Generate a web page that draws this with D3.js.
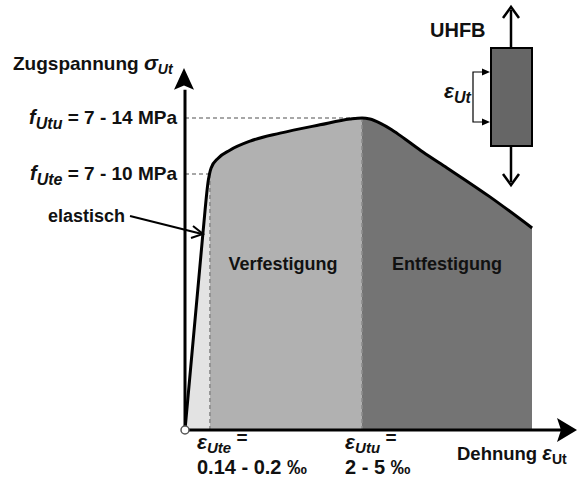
<!DOCTYPE html>
<html><head><meta charset="utf-8">
<script src="https://cdn.jsdelivr.net/npm/d3@7"></script>
<style>body{margin:0;background:#fff}svg{display:block}text{font-family:"Liberation Sans",Arial,sans-serif;font-weight:bold;fill:#111}</style>
</head><body><svg id="c" width="577" height="479"></svg>
<script>
// Schematic stress-strain curve (arbitrary units, 0..100)
const strain = [0, 4.6, 6.0, 6.7, 8.5, 11.5, 16.7, 24.4, 34.6, 42.3, 45.4, 47.4, 50.0, 53.1, 56.4, 61.0, 67.2, 78.2, 89.0];
const stress = [0, 54.4, 69.1, 72.4, 75.1, 77.3, 79.8, 82.0, 84.3, 85.9, 86.2, 85.9, 84.8, 82.9, 80.4, 76.8, 72.4, 64.4, 55.8];
const eUte = 6.4, eUtu = 45.4, eEnd = 89.0;
const fUte = 70.7, fUtu = 86.2;
const zoneNames = ["Verfestigung", "Entfestigung"];
const zoneBounds = [[eUte, eUtu], [eUtu, eEnd]];
const yLabels = [
  {v: fUtu, main: "f", sub: "Utu", rest: " = 7 - 14 MPa"},
  {v: fUte, main: "f", sub: "Ute", rest: " = 7 - 10 MPa"}
];
const xLabels = [
  {v: eUte, sub: "Ute", line2: "0.14 - 0.2 ‰"},
  {v: eUtu, sub: "Utu", line2: "2 - 5 ‰"}
];

const svg = d3.select("#c");
const x = d3.scaleLinear().domain([0, 100]).range([185, 575]);
const y = d3.scaleLinear().domain([0, 100]).range([430, 68]);
const pts = strain.map((s, i) => [s, stress[i]]);
const curve = d3.curveMonotoneX;

const defs = svg.append("defs");
const fills = [[0, eUte, "#e3e3e3"], [eUte, eUtu, "#b1b1b1"], [eUtu, eEnd, "#747474"]];
fills.forEach((f, i) => {
  defs.append("clipPath").attr("id", "cl" + i).append("rect")
    .attr("x", x(f[0])).attr("y", 0).attr("width", x(f[1]) - x(f[0])).attr("height", 479);
});
const area = d3.area().x(d => x(d[0])).y0(y(0)).y1(d => y(d[1])).curve(curve);
fills.forEach((f, i) => {
  svg.append("path").attr("d", area(pts)).attr("fill", f[2]).attr("clip-path", `url(#cl${i})`);
});

// dashed guide lines
const dash = {stroke: "#8a8a8a", "stroke-width": 1.6, "stroke-dasharray": "4,3"};
function dline(x1, y1, x2, y2) {
  const l = svg.append("line").attr("x1", x1).attr("y1", y1).attr("x2", x2).attr("y2", y2);
  Object.entries(dash).forEach(([k, v]) => l.attr(k, v));
}
dline(x(eUte), y(0), x(eUte), y(fUte));
dline(x(eUtu), y(0), x(eUtu), y(fUtu));
dline(x(0), y(fUtu), x(eUtu), y(fUtu));
dline(x(0), y(fUte), x(eUte), y(fUte));

// curve
const line = d3.line().x(d => x(d[0])).y(d => y(d[1])).curve(curve);
svg.append("path").attr("d", line(pts)).attr("fill", "none").attr("stroke", "#000").attr("stroke-width", 3).attr("stroke-linejoin", "round");

// axes
svg.append("line").attr("x1", x(0)).attr("y1", y(0)).attr("x2", x(0)).attr("y2", y(94)).attr("stroke", "#000").attr("stroke-width", 3);
svg.append("path").attr("d", `M${x(0) - 1},${y(100)} L${x(0) - 11},${y(94)} L${x(0) - 1},${y(95.2)} L${x(0) + 9},${y(94)} Z`).attr("fill", "#000");
svg.append("line").attr("x1", x(0)).attr("y1", y(0)).attr("x2", 562).attr("y2", y(0)).attr("stroke", "#000").attr("stroke-width", 3);
svg.append("path").attr("d", `M577,${y(0)} L557,${y(0) - 12} L561,${y(0)} L557,${y(0) + 12} Z`).attr("fill", "#000");
svg.append("circle").attr("cx", x(0)).attr("cy", y(0)).attr("r", 4).attr("fill", "#fff").attr("stroke", "#555").attr("stroke-width", 1.5);

// axis titles
const t1 = svg.append("text").attr("x", 13).attr("y", 70).style("font-size", "19px");
t1.append("tspan").text("Zugspannung ");
t1.append("tspan").text("σ").style("font-style", "italic").style("font-size", "21px");
t1.append("tspan").text("Ut").style("font-style", "italic").style("font-size", "14px").attr("dy", 4);

const t2 = svg.append("text").attr("x", 457).attr("y", 460).style("font-size", "18.5px");
t2.append("tspan").text("Dehnung ");
t2.append("tspan").text("ε").style("font-style", "italic").style("font-size", "20px");
t2.append("tspan").text("Ut").style("font-size", "14px").attr("dy", 4);

// y labels
yLabels.forEach(d => {
  const t = svg.append("text").attr("x", 177).attr("y", y(d.v) + 6).attr("text-anchor", "end").style("font-size", "19px");
  t.append("tspan").text(d.main).style("font-style", "italic").style("font-size", "20px");
  t.append("tspan").text(d.sub).style("font-style", "italic").style("font-size", "16px").attr("dy", 5);
  t.append("tspan").text(d.rest).attr("dy", -5);
});

// x labels
xLabels.forEach((d, i) => {
  const x0 = x(d.v) - (i === 0 ? 13 : 17);
  const t = svg.append("text").attr("x", x0).attr("y", 449).style("font-size", "19px");
  t.append("tspan").text("ε").style("font-style", "italic").style("font-size", "21px");
  t.append("tspan").text(d.sub).style("font-style", "italic").style("font-size", "15px").attr("dy", 4);
  t.append("tspan").text(" =").attr("dy", -9);
  svg.append("text").attr("x", x0).attr("y", 474).style("font-size", "20px").text(d.line2);
});

// zone names
zoneNames.forEach((n, i) => {
  svg.append("text").attr("x", (x(zoneBounds[i][0]) + x(zoneBounds[i][1])) / 2 + (i === 0 ? -3 : 0)).attr("y", 270)
    .attr("text-anchor", "middle").style("font-size", "18px").text(n);
});

// elastisch annotation
svg.append("text").attr("x", 48).attr("y", 222).style("font-size", "18px").text("elastisch");
svg.append("line").attr("x1", 130).attr("y1", 216).attr("x2", 202).attr("y2", 234).attr("stroke", "#000").attr("stroke-width", 2);
svg.append("path").attr("d", "M193,226 L203,234 L191,238").attr("fill", "none").attr("stroke", "#000").attr("stroke-width", 2);

// specimen icon
const g = svg.append("g");
g.append("text").attr("x", 430).attr("y", 37).style("font-size", "20px").text("UHFB");
g.append("line").attr("x1", 511).attr("y1", 48).attr("x2", 511).attr("y2", 10).attr("stroke", "#000").attr("stroke-width", 2.5);
g.append("path").attr("d", "M503,18 L511,7 L519,18").attr("fill", "none").attr("stroke", "#000").attr("stroke-width", 2.5);
g.append("line").attr("x1", 511).attr("y1", 146).attr("x2", 511).attr("y2", 182).attr("stroke", "#000").attr("stroke-width", 2.5);
g.append("path").attr("d", "M503,174 L511,185 L519,174").attr("fill", "none").attr("stroke", "#000").attr("stroke-width", 2.5);
g.append("rect").attr("x", 491).attr("y", 48).attr("width", 41).attr("height", 98).attr("fill", "#666").attr("stroke", "#000").attr("stroke-width", 2);
g.append("path").attr("d", "M484,72 L473,72 L473,122 L484,122").attr("fill", "none").attr("stroke", "#000").attr("stroke-width", 1.2);
g.append("path").attr("d", "M482,68.5 L490,72 L482,75.5 Z M482,118.5 L490,122 L482,125.5 Z").attr("fill", "#000");
const te = g.append("text").attr("x", 444).attr("y", 98).style("font-size", "18px");
te.append("tspan").text("ε").style("font-style", "italic").style("font-size", "21px");
te.append("tspan").text("Ut").style("font-style", "italic").style("font-size", "16px").attr("dy", 5);
</script></body></html>
